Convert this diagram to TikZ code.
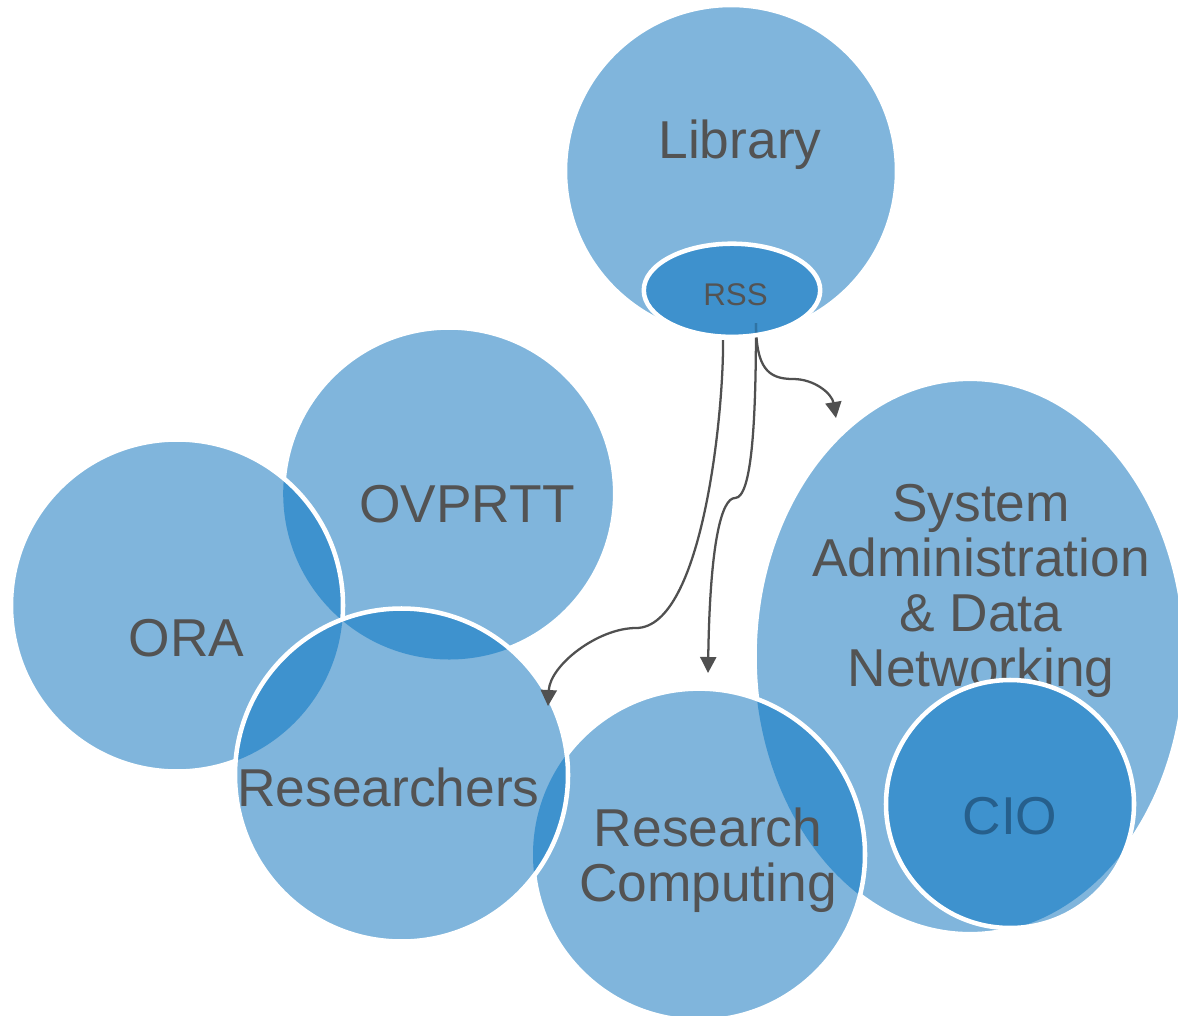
\documentclass[tikz,border=0pt]{standalone}
\usepackage{fontspec}
\setmainfont{Liberation Sans}
\usetikzlibrary{arrows.meta}
\definecolor{lt}{RGB}{128,181,220}
\definecolor{dk}{RGB}{62,146,206}
\definecolor{rssbase}{RGB}{34,131,200}
\definecolor{txt}{RGB}{83,83,83}
\definecolor{ciotxt}{RGB}{38,95,140}
\definecolor{arr}{RGB}{80,80,80}
\newcommand\pOVP{(ovp) circle [radius=166]}
\newcommand\pORA{(ora) circle [radius=166]}
\newcommand\pSYS{(sys) ellipse [x radius=215.5, y radius=277.7]}
\newcommand\pRC{(rc) circle [radius=166]}
\newcommand\pRES{(res) circle [radius=166.5]}
\newcommand\pCIO{(cio) circle [radius=124]}
\newcommand\pLIB{(lib) circle [radius=166]}
\newcommand\pRSS{(rss) ellipse [x radius=88.2, y radius=46.6]}
\begin{document}
\begin{tikzpicture}[x=0.75pt, y=-0.75pt,
  wl/.style={draw=white, line width=3.4pt},
  lbl/.style={text=txt, font=\fontsize{40}{41.25}\selectfont, inner sep=0pt, align=center, anchor=base},
  conn/.style={draw=arr, line width=1.7pt, -{Triangle[length=12pt,width=12pt]}}]
\useasboundingbox (0,0) rectangle (1178,1015);
\fill[white] (0,0) rectangle (1178,1015);
% centres
\coordinate (ovp) at (449.2,493.5);
\coordinate (ora) at (177,605.5);
\coordinate (sys) at (970,656.5);
\coordinate (rc) at (699,854.6);
\coordinate (res) at (401.5,775);
\coordinate (cio) at (1010,804);
\coordinate (lib) at (731,171);
\coordinate (rss) at (732,290.3);
% connector points
\coordinate (s1) at (723,340);
\coordinate (m1) at (636,628);
\coordinate (t1) at (548,706);
\coordinate (s2) at (756,323);
\coordinate (m2) at (735,498);
\coordinate (t2) at (708,673);
\coordinate (m3) at (793,379);
\coordinate (t3) at (836,418);
% OVPRTT
\fill[lt] \pOVP;
\draw[wl] \pOVP;
\node[lbl] (tovp) at (467,522) {OVPRTT};
% ORA
\fill[lt] \pORA;
\begin{scope}\clip \pORA; \fill[dk] \pOVP; \end{scope}
\draw[wl] \pORA;
\node[lbl] (tora) at (186.5,656) {ORA};
% System administration
\fill[lt] \pSYS;
\draw[wl] \pSYS;
\node[lbl] (tsys) at (981,686) {System\\Administration\\\& Data\\Networking};
% Research computing
\fill[lt] \pRC;
\begin{scope}\clip \pRC; \fill[dk] \pSYS; \end{scope}
\draw[wl] \pRC;
\node[lbl] (trc) at (708,901) {Research\\Computing};
% Researchers
\fill[lt] \pRES;
\begin{scope}\clip \pRES; \fill[dk] \pORA; \fill[dk] \pOVP; \fill[dk] \pRC; \end{scope}
\draw[wl] \pRES;
\node[lbl] (tres) at (388.5,806) {Researchers};
% CIO
\fill[lt] \pCIO;
\begin{scope}\clip \pCIO; \fill[dk] \pSYS; \end{scope}
\draw[wl] \pCIO;
\node[lbl, text=ciotxt] (tcio) at (1010,834) {CIO};
% Library
\fill[lt] \pLIB;
\draw[wl] \pLIB;
\node[lbl] (tlib) at (740,158) {Library};
% connectors
\draw[conn] (s1) .. controls (724,409) and (703,628) .. (m1) .. controls (598,628) and (550,665) .. (t1);
\draw[conn] (s2) .. controls (756,420) and (752,498) .. (m2) .. controls (722,498) and (710,540) .. (t2);
\draw[conn] (s2) .. controls (756,368) and (768,379) .. (m3) .. controls (815,379) and (832,394) .. (t3);
% RSS
\fill[rssbase, fill opacity=0.7] \pRSS;
\draw[wl] \pRSS;
\node[lbl, font=\fontsize{23.5}{28}\selectfont] (trss) at (735.5,305) {RSS};
\end{tikzpicture}
\end{document}
